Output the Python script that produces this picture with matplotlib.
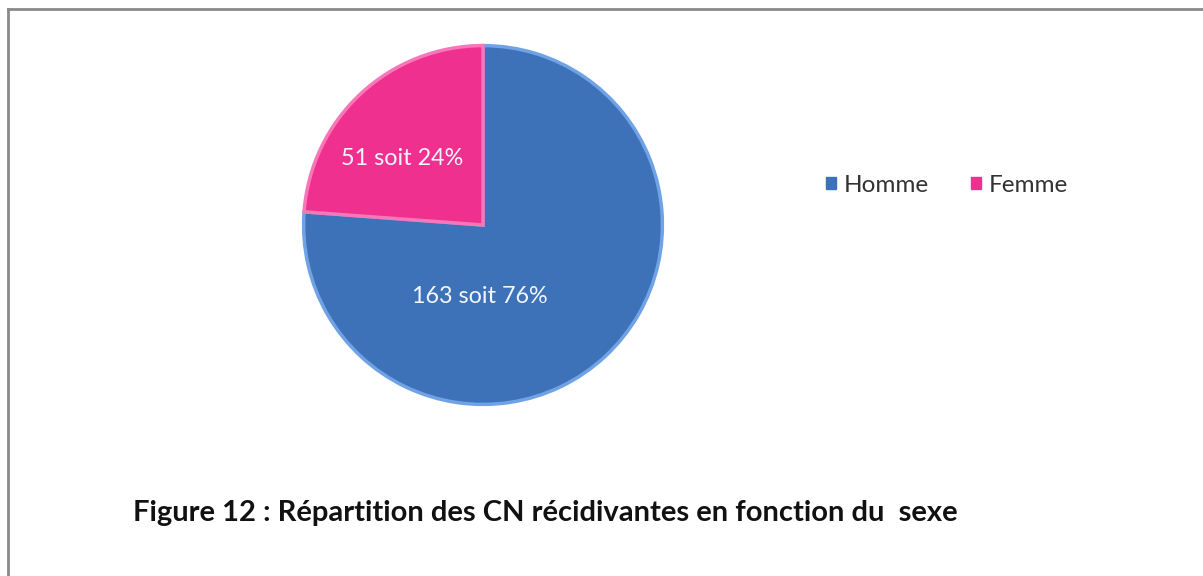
import matplotlib.pyplot as plt
from matplotlib.lines import Line2D

# donnees
categories = ["Homme", "Femme"]
effectifs = [163, 51]
pourcentages = [76, 24]
couleurs = ["#3D72B8", "#F0308F"]
bords = ["#6FA3E6", "#F777B8"]
titre = "Figure 12 : Répartition des CN récidivantes en fonction du  sexe"

W, H = 1203, 576
fig = plt.figure(figsize=(W / 100, H / 100), dpi=100)
fig.patch.set_facecolor("white")

# cadre gris (haut et gauche)
fig.add_artist(Line2D([7.5 / W, 7.5 / W], [0, 1 - 8.5 / H], transform=fig.transFigure,
                      color="#8a8a8a", lw=2))
fig.add_artist(Line2D([7.5 / W, 1], [1 - 8.5 / H, 1 - 8.5 / H], transform=fig.transFigure,
                      color="#8a8a8a", lw=2))

# camembert
cx, cy, r = 483, 225, 183
ax = fig.add_axes([(cx - r) / W, (H - cy - r) / H, 2 * r / W, 2 * r / H])
wedges, _ = ax.pie(effectifs, colors=couleurs, startangle=90, counterclock=False,
                   wedgeprops=dict(linewidth=0))
for w, b in zip(wedges, bords):
    w.set_edgecolor(b)
    w.set_linewidth(2.5)
ax.set_xlim(-1.02, 1.02)
ax.set_ylim(-1.02, 1.02)
ax.set_aspect("equal")
ax.axis("off")

# etiquettes
pos = [(-0.02, -0.4), (-0.45, 0.37)]
for (x, y), n, p in zip(pos, effectifs, pourcentages):
    ax.text(x, y, f"{n} soit {p}%", ha="center", va="center", color="#F4F6FF",
            fontsize=16.8, family="Lato")

# legende
handles = [plt.Rectangle((0, 0), 1, 1, color=c) for c in couleurs]
fig.legend(handles, categories, loc="center left", bbox_to_anchor=(826 / W, 1 - 185 / H),
           ncol=2, frameon=False, prop=dict(family="Lato", size=17.5),
           labelcolor="#333333", borderpad=0, borderaxespad=0,
           handlelength=0.42, handleheight=0.42, handletextpad=0.3, columnspacing=1.75)

# titre
fig.text(133 / W, 1 - 513 / H, titre, ha="left", va="center", fontsize=21,
         fontweight="bold", family="Lato", color="#111111")

fig.savefig("out.png", dpi=100)
